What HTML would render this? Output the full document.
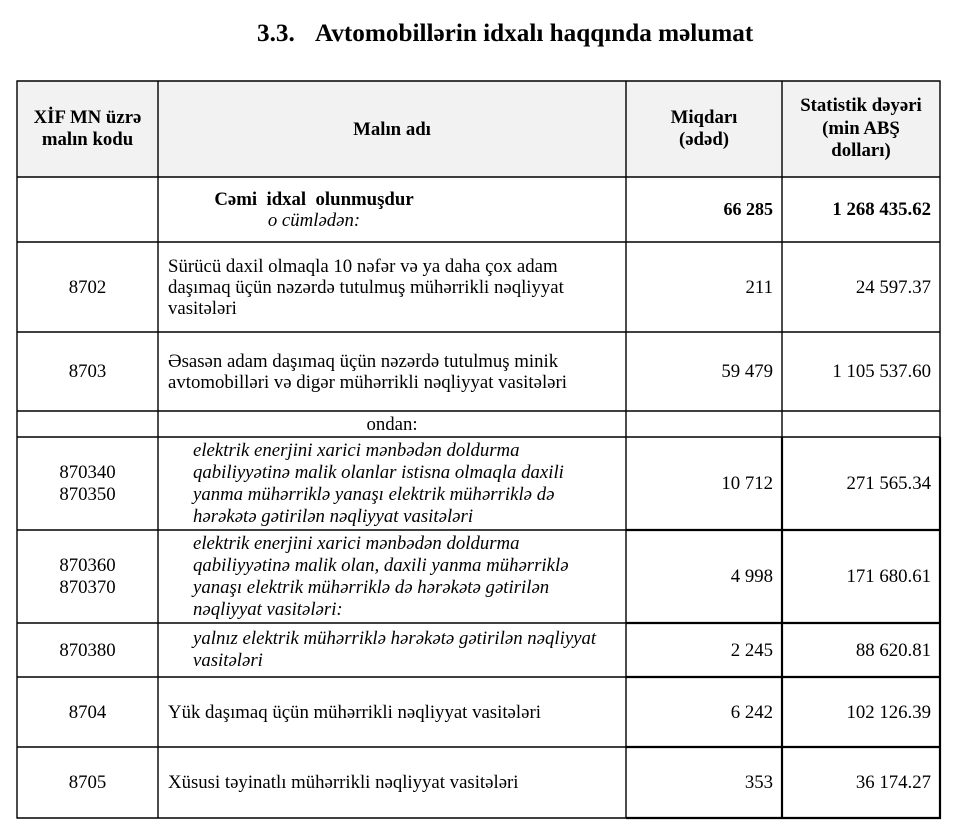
<!DOCTYPE html>
<html>
<head>
<meta charset="utf-8">
<style>
  html,body{margin:0;padding:0;background:#fff;}
  body{width:969px;height:826px;position:relative;overflow:hidden;
       font-family:"Liberation Serif","DejaVu Serif",serif;color:#000;}
  .c{position:absolute;display:flex;flex-direction:column;justify-content:center;
     font-size:18.8px;line-height:21px;box-sizing:border-box;white-space:nowrap;}
  .ctr{text-align:center;align-items:center;}
  .l{text-align:left;padding-left:10px;}
  .r{text-align:right;padding-right:9px;}
  .b{font-weight:bold;}
  .i{font-style:italic;line-height:22px;padding-left:35px;}
  .t{position:absolute;font-weight:bold;font-size:25.2px;line-height:25px;white-space:nowrap;}
</style>
</head>
<body>
<div class="t" style="left:257px;top:21px;">3.3.</div>
<div class="t" style="left:315px;top:21px;">Avtomobillərin idxalı haqqında məlumat</div>

<svg width="969" height="826" style="position:absolute;left:0;top:0;">
  <rect x="17" y="81" width="923" height="96" fill="#f2f2f2"/>
  <g stroke="#000" stroke-width="1.4" fill="none">
    <line x1="16.5" y1="81" x2="940.5" y2="81"/>
    <line x1="16.5" y1="177" x2="940.5" y2="177"/>
    <line x1="16.5" y1="242" x2="940.5" y2="242"/>
    <line x1="16.5" y1="332" x2="940.5" y2="332"/>
    <line x1="16.5" y1="411" x2="940.5" y2="411"/>
    <line x1="16.5" y1="437" x2="940.5" y2="437"/>
    <line x1="16.5" y1="530" x2="626" y2="530"/>
    <line x1="16.5" y1="623" x2="626" y2="623"/>
    <line x1="16.5" y1="677" x2="626" y2="677"/>
    <line x1="16.5" y1="747" x2="626" y2="747"/>
    <line x1="16.5" y1="818" x2="626" y2="818"/>
    <line x1="17" y1="80.5" x2="17" y2="818.5"/>
    <line x1="158" y1="80.5" x2="158" y2="818.5"/>
    <line x1="626" y1="80.5" x2="626" y2="818.5"/>
    <line x1="782" y1="80.5" x2="782" y2="437"/>
    <line x1="940" y1="80.5" x2="940" y2="437"/>
  </g>
  <g stroke="#000" stroke-width="2.2" fill="none">
    <line x1="626" y1="530" x2="941" y2="530"/>
    <line x1="626" y1="623" x2="941" y2="623"/>
    <line x1="626" y1="677" x2="941" y2="677"/>
    <line x1="626" y1="747" x2="941" y2="747"/>
    <line x1="626" y1="818" x2="941" y2="818"/>
    <line x1="782" y1="437" x2="782" y2="819"/>
    <line x1="940" y1="437" x2="940" y2="819"/>
  </g>
</svg>

<!-- Header -->
<div class="c ctr b" style="left:17px;top:81px;width:141px;height:96px;line-height:22px;">XİF MN üzrə<br>malın kodu</div>
<div class="c ctr b" style="left:158px;top:81px;width:468px;height:96px;">Malın adı</div>
<div class="c ctr b" style="left:626px;top:81px;width:156px;height:96px;line-height:22px;">Miqdarı<br>(ədəd)</div>
<div class="c ctr b" style="left:782px;top:81px;width:158px;height:96px;line-height:22.5px;">Statistik dəyəri<br>(min ABŞ<br>dolları)</div>

<!-- Cəmi -->
<div class="c ctr" style="left:158px;top:177px;width:312px;height:65px;"><span class="b" style="white-space:pre;">Cəmi  idxal  olunmuşdur</span><span style="font-style:italic;">o cümlədən:</span></div>
<div class="c r b" style="left:626px;top:177px;width:156px;height:65px;font-size:18px;">66 285</div>
<div class="c r b" style="left:782px;top:177px;width:158px;height:65px;">1 268 435.62</div>

<!-- 8702 -->
<div class="c ctr" style="left:17px;top:242px;width:141px;height:90px;">8702</div>
<div class="c l" style="left:158px;top:242px;width:468px;height:90px;">Sürücü daxil olmaqla 10 nəfər və ya daha çox adam<br>daşımaq üçün nəzərdə tutulmuş mühərrikli nəqliyyat<br>vasitələri</div>
<div class="c r" style="left:626px;top:242px;width:156px;height:90px;">211</div>
<div class="c r" style="left:782px;top:242px;width:158px;height:90px;">24 597.37</div>

<!-- 8703 -->
<div class="c ctr" style="left:17px;top:332px;width:141px;height:79px;">8703</div>
<div class="c l" style="left:158px;top:332px;width:468px;height:79px;">Əsasən adam daşımaq üçün nəzərdə tutulmuş minik<br>avtomobilləri və digər mühərrikli nəqliyyat vasitələri</div>
<div class="c r" style="left:626px;top:332px;width:156px;height:79px;">59 479</div>
<div class="c r" style="left:782px;top:332px;width:158px;height:79px;">1 105 537.60</div>

<!-- ondan -->
<div class="c ctr" style="left:158px;top:411px;width:468px;height:26px;">ondan:</div>

<!-- 870340 -->
<div class="c ctr" style="left:17px;top:437px;width:141px;height:93px;line-height:22px;">870340<br>870350</div>
<div class="c i" style="left:158px;top:437px;width:468px;height:93px;">elektrik enerjini xarici mənbədən doldurma<br>qabiliyyətinə malik olanlar istisna olmaqla daxili<br>yanma mühərriklə yanaşı elektrik mühərriklə də<br>hərəkətə gətirilən nəqliyyat vasitələri</div>
<div class="c r" style="left:626px;top:437px;width:156px;height:93px;">10 712</div>
<div class="c r" style="left:782px;top:437px;width:158px;height:93px;">271 565.34</div>

<!-- 870360 -->
<div class="c ctr" style="left:17px;top:530px;width:141px;height:93px;line-height:22px;">870360<br>870370</div>
<div class="c i" style="left:158px;top:530px;width:468px;height:93px;">elektrik enerjini xarici mənbədən doldurma<br>qabiliyyətinə malik olan, daxili yanma mühərriklə<br>yanaşı elektrik mühərriklə də hərəkətə gətirilən<br>nəqliyyat vasitələri:</div>
<div class="c r" style="left:626px;top:530px;width:156px;height:93px;">4 998</div>
<div class="c r" style="left:782px;top:530px;width:158px;height:93px;">171 680.61</div>

<!-- 870380 -->
<div class="c ctr" style="left:17px;top:623px;width:141px;height:54px;">870380</div>
<div class="c i" style="left:158px;top:623px;width:468px;height:54px;">yalnız elektrik mühərriklə hərəkətə gətirilən nəqliyyat<br>vasitələri</div>
<div class="c r" style="left:626px;top:623px;width:156px;height:54px;">2 245</div>
<div class="c r" style="left:782px;top:623px;width:158px;height:54px;">88 620.81</div>

<!-- 8704 -->
<div class="c ctr" style="left:17px;top:677px;width:141px;height:70px;">8704</div>
<div class="c l" style="left:158px;top:677px;width:468px;height:70px;">Yük daşımaq üçün mühərrikli nəqliyyat vasitələri</div>
<div class="c r" style="left:626px;top:677px;width:156px;height:70px;">6 242</div>
<div class="c r" style="left:782px;top:677px;width:158px;height:70px;">102 126.39</div>

<!-- 8705 -->
<div class="c ctr" style="left:17px;top:747px;width:141px;height:71px;">8705</div>
<div class="c l" style="left:158px;top:747px;width:468px;height:71px;">Xüsusi təyinatlı mühərrikli nəqliyyat vasitələri</div>
<div class="c r" style="left:626px;top:747px;width:156px;height:71px;">353</div>
<div class="c r" style="left:782px;top:747px;width:158px;height:71px;">36 174.27</div>
</body>
</html>
